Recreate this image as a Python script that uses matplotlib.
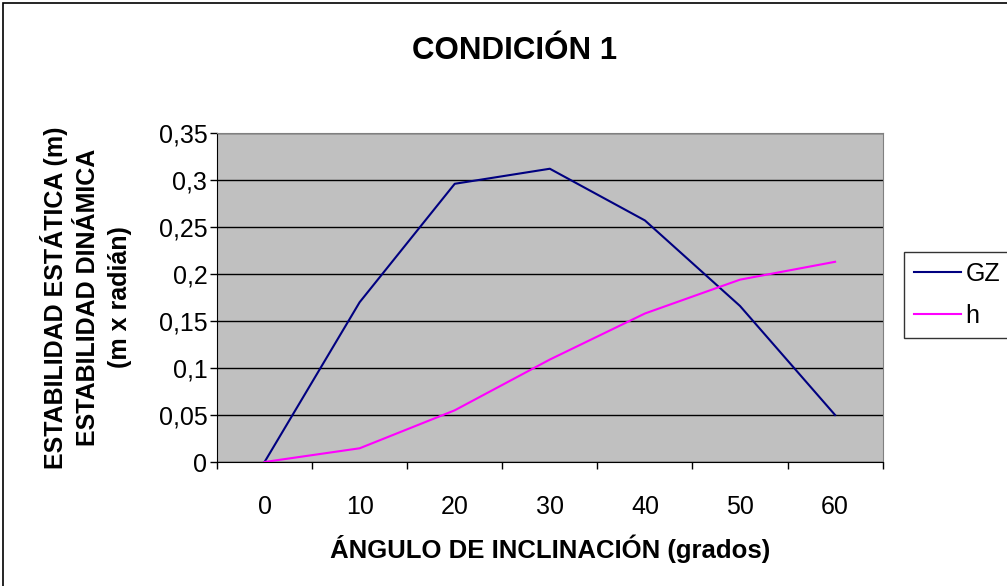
import matplotlib.pyplot as plt
from matplotlib.patches import Rectangle
from matplotlib.ticker import FixedLocator, FuncFormatter

plt.rcParams['font.family'] = ['Liberation Sans', 'DejaVu Sans']

# data
angles = ['0', '10', '20', '30', '40', '50', '60']
gz = [0.0, 0.170, 0.296, 0.312, 0.257, 0.166, 0.050]
h = [0.0, 0.0146, 0.055, 0.109, 0.158, 0.194, 0.213]

fig = plt.figure(figsize=(10.07, 5.86), dpi=100)
fig.patches.append(Rectangle((0.003, -0.01), 1.1, 1.005, transform=fig.transFigure,
                             fill=False, edgecolor='black', linewidth=1.2))

ax = fig.add_axes([0.2155, 0.2116, 0.661, 0.5614])
ax.set_facecolor('#c0c0c0')

x = list(range(len(angles)))
ax.plot(x, gz, color='#000080', linewidth=1.5, label='GZ')
ax.plot(x, h, color='#ff00ff', linewidth=1.5, label='h')

ax.set_xlim(-0.5, len(angles) - 0.5)
ax.set_ylim(0, 0.35)
ax.set_yticks([0.05 * i for i in range(8)])
ax.yaxis.set_major_formatter(FuncFormatter(
    lambda v, p: '0' if abs(v) < 1e-9 else ('%g' % round(v, 2)).replace('.', ',')))
ax.grid(axis='y', color='black', linewidth=1)
ax.set_axisbelow(True)

ax.set_xticks(x)
ax.set_xticklabels(angles)
ax.xaxis.set_minor_locator(FixedLocator([i - 0.5 for i in range(len(angles) + 1)]))
ax.tick_params(axis='x', which='major', length=0, pad=24, labelsize=18)
ax.tick_params(axis='x', which='minor', length=5, width=1)
ax.tick_params(axis='y', length=5, width=1, labelsize=18, pad=2)

for side in ['top', 'right']:
    ax.spines[side].set_color('#808080')
for side in ['left', 'bottom']:
    ax.spines[side].set_color('black')

fig.text(0.511, 0.913, 'CONDICIÓN 1', ha='center', va='center', fontsize=22.5, fontweight='bold')
ax.set_xlabel('ÁNGULO DE INCLINACIÓN (grados)', fontsize=18.5, fontweight='bold', labelpad=11)
ax.set_ylabel('ESTABILIDAD ESTÁTICA (m)\nESTABILIDAD DINÁMICA\n(m x radián)',
              fontsize=18, fontweight='bold', labelpad=19, linespacing=1.42)

leg = fig.legend(loc='center left', bbox_to_anchor=(0.898, 0.497), fontsize=18,
                 frameon=True, fancybox=False, edgecolor='black', handlelength=1.85,
                 borderpad=0.4, labelspacing=0.7, handletextpad=0.2, borderaxespad=0)
leg.get_frame().set_linewidth(1)

fig.savefig('out.png', dpi=100)
